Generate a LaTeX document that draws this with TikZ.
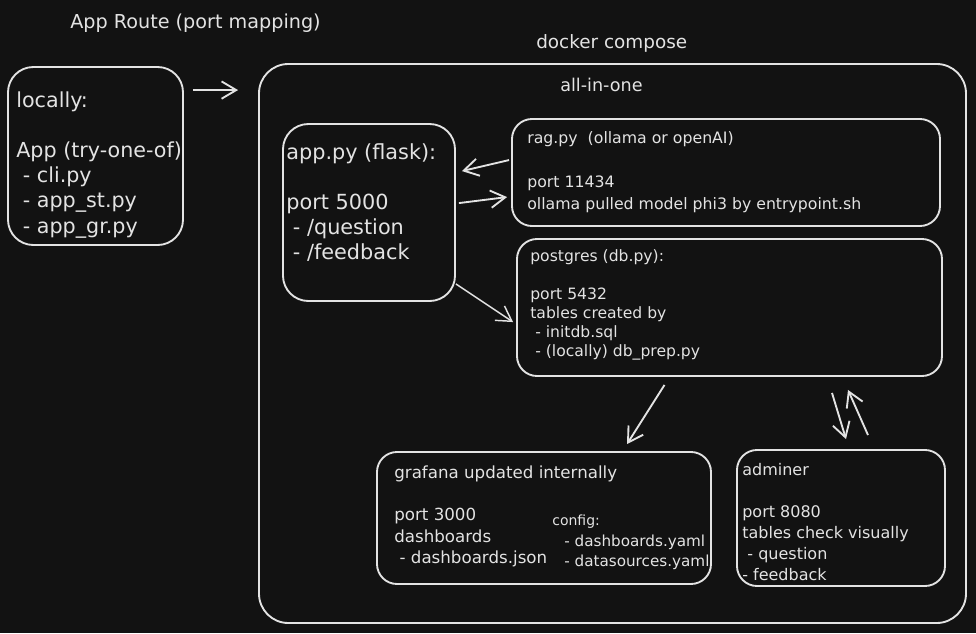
\documentclass[tikz,border=0pt]{standalone}
\usepackage{fontspec}
\setmainfont{DejaVu Sans}
\usetikzlibrary{arrows.meta}
\definecolor{bg}{HTML}{121212}
\definecolor{fg}{HTML}{E3E3E3}
\begin{document}
\begin{tikzpicture}[x=0.75pt,y=-0.75pt,>={Straight Barb[length=11pt,width=13pt]},
  boxsize/.style 2 args={minimum width=#1*0.75pt,minimum height=#2*0.75pt}]
  \tikzstyle{box}=[draw=fg,line width=1.4pt,rounded corners=15pt,inner sep=0pt]
  \tikzstyle{txt}=[anchor=north west,inner sep=0pt,align=left,text=fg]
  \tikzstyle{arr}=[->,draw=fg,line width=1.4pt]
  \fill[bg] (0,0) rectangle (976,633);
  \node [box,boxsize={707}{559},rounded corners=22pt] (compose) at (612.5,343.5) {};
  \node [box,boxsize={175}{178},rounded corners=19pt] (loc) at (95.5,156) {};
  \node [box,boxsize={172}{177},rounded corners=19pt] (app) at (369,212.5) {};
  \node [box,boxsize={428}{107}] (rag) at (726,172.5) {};
  \node [box,boxsize={425}{137}] (pg) at (729.5,307.5) {};
  \node [box,boxsize={334}{132}] (graf) at (544,518) {};
  \node [box,boxsize={208}{136}] (adm) at (841,518) {};
  \node [txt,anchor=west,font=\fontsize{14.4}{17}\selectfont] (title) at (70,23) {App Route (port mapping)};
  \node [txt,anchor=west,font=\fontsize{13.8}{17}\selectfont] (composelbl) at (536,43) {docker compose};
  \node [txt,anchor=west,font=\fontsize{13.2}{16}\selectfont] (aio) at (560,85) {all-in-one};
  \node [txt,font=\fontsize{15.5}{18.9}\selectfont] (loctxt) at ([shift={(9,25)}]loc.north west)
    {locally:\\ \\App (try-one-of)\\\ - cli.py\\\ - app\_st.py\\\ - app\_gr.py};
  \node [txt,font=\fontsize{15.6}{18.75}\selectfont] (apptxt) at ([shift={(4,20)}]app.north west)
    {app.py (flask):\\ \\port 5000\\\ - /question\\\ - /feedback};
  \node [txt,font=\fontsize{11.8}{16.4}\selectfont] (ragtxt) at ([shift={(16,13.5)}]rag.north west)
    {rag.py\ \ (ollama or openAI)\\ \\port 11434\\ollama pulled model phi3 by entrypoint.sh};
  \node [txt,font=\fontsize{11.7}{14.25}\selectfont] (pgtxt) at ([shift={(14,11.5)}]pg.north west)
    {postgres (db.py):\\ \\port 5432\\tables created by\\\ - initdb.sql\\\ - (locally) db\_prep.py};
  \node [txt,font=\fontsize{12.5}{16}\selectfont] (graftxt) at ([shift={(18,14)}]graf.north west)
    {grafana updated internally\\ \\port 3000\\dashboards\\\ - dashboards.json};
  \node [txt,font=\fontsize{11.4}{15.3}\selectfont] (conftxt) at ([shift={(176,64)}]graf.north west)
    {{\fontsize{10.5}{13}\selectfont config:}\\\hspace{9pt}- dashboards.yaml\\\hspace{9pt}- datasources.yaml};
  \node [txt,font=\fontsize{12}{15.75}\selectfont] (admtxt) at ([shift={(6,14.5)}]adm.north west)
    {adminer\\ \\port 8080\\tables check visually\\\ - question\\- feedback};
  \draw [arr] ([shift={(9,24)}]loc.north east) -- ([shift={(-20,27)}]compose.north west);
  \draw [arr] ([shift={(-2,42)}]rag.north west) -- ([shift={(6,48)}]app.north east);
  \draw [arr] ([shift={(3,80)}]app.north east) -- ([shift={(-4,79)}]rag.north west);
  \draw [arr,line width=1.1pt] ([shift={(0,-18)}]app.south east) -- ([shift={(-3,84)}]pg.north west);
  \draw [arr] ([shift={(-65,8)}]pg.south) -- ([shift={(83,-7)}]graf.north);
  \draw [arr] ([shift={(102.5,16)}]pg.south) -- ([shift={(5,-10)}]adm.north);
  \draw [arr] ([shift={(27,-14)}]adm.north) -- ([shift={(118.5,13)}]pg.south);
\end{tikzpicture}
\end{document}
